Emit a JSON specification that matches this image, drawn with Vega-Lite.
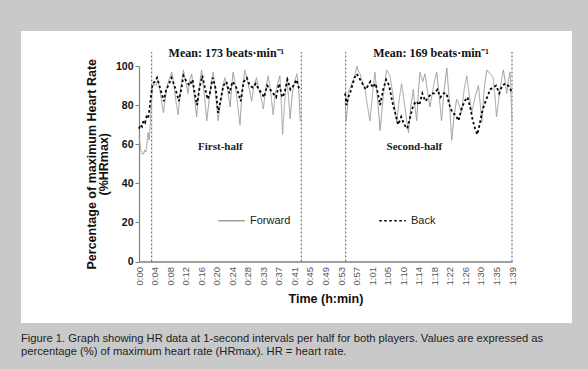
{
  "$schema": "https://vega.github.io/schema/vega-lite/v6.json",
  "width": 551,
  "height": 292,
  "autosize": {"type": "none"},
  "padding": {"left": 21, "top": 31, "right": 16, "bottom": 46},
  "background": "#c9c9c9",
  "config": {
    "view": {"fill": "white", "stroke": null},
    "font": "Liberation Sans"
  },
  "title": {
    "text": ["Figure 1. Graph showing HR data at 1-second intervals per half for both players. Values are expressed as", "percentage (%) of maximum heart rate (HRmax). HR = heart rate."],
    "orient": "bottom",
    "anchor": "start",
    "frame": "group",
    "offset": 10,
    "font": "Liberation Sans",
    "fontSize": 11.2,
    "fontWeight": "normal",
    "color": "#222222",
    "lineHeight": 12.5
  },
  "datasets": {
    "hr": [
      {"t":0.0,"v":64,"p":"Forward","h":1},{"t":0.3,"v":60,"p":"Forward","h":1},{"t":0.6,"v":56,"p":"Forward","h":1},{"t":0.9,"v":55,"p":"Forward","h":1},{"t":1.2,"v":55,"p":"Forward","h":1},{"t":1.5,"v":57,"p":"Forward","h":1},{"t":1.8,"v":56,"p":"Forward","h":1},{"t":2.1,"v":60,"p":"Forward","h":1},{"t":2.4,"v":66,"p":"Forward","h":1},{"t":2.7,"v":62,"p":"Forward","h":1},{"t":3.0,"v":70,"p":"Forward","h":1},{"t":3.3,"v":82,"p":"Forward","h":1},{"t":3.6,"v":89,"p":"Forward","h":1},{"t":4.0,"v":91,"p":"Forward","h":1},{"t":4.5,"v":90,"p":"Forward","h":1},{"t":5.0,"v":93,"p":"Forward","h":1},{"t":5.5,"v":88,"p":"Forward","h":1},{"t":6.0,"v":82,"p":"Forward","h":1},{"t":6.5,"v":76,"p":"Forward","h":1},{"t":7.0,"v":84,"p":"Forward","h":1},{"t":7.5,"v":90,"p":"Forward","h":1},{"t":8.0,"v":93,"p":"Forward","h":1},{"t":8.7,"v":97,"p":"Forward","h":1},{"t":9.3,"v":90,"p":"Forward","h":1},{"t":9.8,"v":82,"p":"Forward","h":1},{"t":10.4,"v":75,"p":"Forward","h":1},{"t":11.0,"v":88,"p":"Forward","h":1},{"t":11.8,"v":98,"p":"Forward","h":1},{"t":12.4,"v":92,"p":"Forward","h":1},{"t":13.0,"v":86,"p":"Forward","h":1},{"t":13.5,"v":93,"p":"Forward","h":1},{"t":14.0,"v":96,"p":"Forward","h":1},{"t":14.6,"v":86,"p":"Forward","h":1},{"t":15.3,"v":74,"p":"Forward","h":1},{"t":15.9,"v":88,"p":"Forward","h":1},{"t":16.6,"v":98,"p":"Forward","h":1},{"t":17.2,"v":88,"p":"Forward","h":1},{"t":18.0,"v":72,"p":"Forward","h":1},{"t":18.7,"v":84,"p":"Forward","h":1},{"t":19.2,"v":92,"p":"Forward","h":1},{"t":19.7,"v":97,"p":"Forward","h":1},{"t":20.3,"v":86,"p":"Forward","h":1},{"t":21.0,"v":72,"p":"Forward","h":1},{"t":21.7,"v":82,"p":"Forward","h":1},{"t":22.3,"v":90,"p":"Forward","h":1},{"t":22.8,"v":94,"p":"Forward","h":1},{"t":23.5,"v":88,"p":"Forward","h":1},{"t":24.2,"v":79,"p":"Forward","h":1},{"t":24.6,"v":90,"p":"Forward","h":1},{"t":25.0,"v":97,"p":"Forward","h":1},{"t":25.6,"v":90,"p":"Forward","h":1},{"t":26.2,"v":80,"p":"Forward","h":1},{"t":26.8,"v":70,"p":"Forward","h":1},{"t":27.4,"v":88,"p":"Forward","h":1},{"t":28.1,"v":98,"p":"Forward","h":1},{"t":28.7,"v":93,"p":"Forward","h":1},{"t":29.3,"v":88,"p":"Forward","h":1},{"t":29.9,"v":82,"p":"Forward","h":1},{"t":30.5,"v":90,"p":"Forward","h":1},{"t":31.2,"v":94,"p":"Forward","h":1},{"t":31.8,"v":88,"p":"Forward","h":1},{"t":32.4,"v":84,"p":"Forward","h":1},{"t":33.0,"v":78,"p":"Forward","h":1},{"t":33.6,"v":88,"p":"Forward","h":1},{"t":34.3,"v":95,"p":"Forward","h":1},{"t":35.0,"v":86,"p":"Forward","h":1},{"t":35.6,"v":75,"p":"Forward","h":1},{"t":36.2,"v":86,"p":"Forward","h":1},{"t":36.8,"v":91,"p":"Forward","h":1},{"t":37.4,"v":95,"p":"Forward","h":1},{"t":37.8,"v":80,"p":"Forward","h":1},{"t":38.1,"v":65,"p":"Forward","h":1},{"t":38.6,"v":80,"p":"Forward","h":1},{"t":39.2,"v":94,"p":"Forward","h":1},{"t":39.7,"v":84,"p":"Forward","h":1},{"t":40.1,"v":73,"p":"Forward","h":1},{"t":40.7,"v":86,"p":"Forward","h":1},{"t":41.3,"v":92,"p":"Forward","h":1},{"t":41.9,"v":96,"p":"Forward","h":1},{"t":42.4,"v":88,"p":"Forward","h":1},{"t":42.8,"v":72,"p":"Forward","h":1},
      {"t":54.7,"v":82,"p":"Forward","h":2},{"t":55.0,"v":72,"p":"Forward","h":2},{"t":55.3,"v":78,"p":"Forward","h":2},{"t":55.6,"v":87,"p":"Forward","h":2},{"t":56.3,"v":90,"p":"Forward","h":2},{"t":56.9,"v":93,"p":"Forward","h":2},{"t":57.4,"v":96,"p":"Forward","h":2},{"t":57.8,"v":100,"p":"Forward","h":2},{"t":58.3,"v":97,"p":"Forward","h":2},{"t":58.7,"v":96,"p":"Forward","h":2},{"t":59.1,"v":93,"p":"Forward","h":2},{"t":59.5,"v":91,"p":"Forward","h":2},{"t":60.0,"v":88,"p":"Forward","h":2},{"t":60.6,"v":80,"p":"Forward","h":2},{"t":61.3,"v":72,"p":"Forward","h":2},{"t":62.0,"v":86,"p":"Forward","h":2},{"t":62.6,"v":97,"p":"Forward","h":2},{"t":63.3,"v":84,"p":"Forward","h":2},{"t":64.0,"v":67,"p":"Forward","h":2},{"t":64.8,"v":84,"p":"Forward","h":2},{"t":65.7,"v":98,"p":"Forward","h":2},{"t":66.6,"v":95,"p":"Forward","h":2},{"t":67.5,"v":84,"p":"Forward","h":2},{"t":68.4,"v":71,"p":"Forward","h":2},{"t":69.0,"v":82,"p":"Forward","h":2},{"t":69.7,"v":91,"p":"Forward","h":2},{"t":70.5,"v":80,"p":"Forward","h":2},{"t":71.5,"v":66,"p":"Forward","h":2},{"t":72.2,"v":80,"p":"Forward","h":2},{"t":72.8,"v":88,"p":"Forward","h":2},{"t":73.2,"v":80,"p":"Forward","h":2},{"t":73.7,"v":72,"p":"Forward","h":2},{"t":74.2,"v":88,"p":"Forward","h":2},{"t":74.6,"v":97,"p":"Forward","h":2},{"t":75.3,"v":92,"p":"Forward","h":2},{"t":75.9,"v":96,"p":"Forward","h":2},{"t":76.5,"v":88,"p":"Forward","h":2},{"t":77.2,"v":79,"p":"Forward","h":2},{"t":78.2,"v":90,"p":"Forward","h":2},{"t":79.0,"v":97,"p":"Forward","h":2},{"t":79.7,"v":84,"p":"Forward","h":2},{"t":80.3,"v":72,"p":"Forward","h":2},{"t":81.0,"v":88,"p":"Forward","h":2},{"t":81.7,"v":99,"p":"Forward","h":2},{"t":82.3,"v":84,"p":"Forward","h":2},{"t":83.0,"v":62,"p":"Forward","h":2},{"t":83.6,"v":74,"p":"Forward","h":2},{"t":84.3,"v":83,"p":"Forward","h":2},{"t":85.0,"v":80,"p":"Forward","h":2},{"t":85.6,"v":76,"p":"Forward","h":2},{"t":86.3,"v":88,"p":"Forward","h":2},{"t":87.0,"v":95,"p":"Forward","h":2},{"t":87.6,"v":86,"p":"Forward","h":2},{"t":88.3,"v":76,"p":"Forward","h":2},{"t":89.2,"v":84,"p":"Forward","h":2},{"t":90.1,"v":90,"p":"Forward","h":2},{"t":90.6,"v":80,"p":"Forward","h":2},{"t":91.0,"v":71,"p":"Forward","h":2},{"t":91.6,"v":88,"p":"Forward","h":2},{"t":92.3,"v":98,"p":"Forward","h":2},{"t":93.2,"v":96,"p":"Forward","h":2},{"t":94.0,"v":94,"p":"Forward","h":2},{"t":94.5,"v":84,"p":"Forward","h":2},{"t":94.9,"v":74,"p":"Forward","h":2},{"t":95.8,"v":88,"p":"Forward","h":2},{"t":96.7,"v":98,"p":"Forward","h":2},{"t":97.2,"v":92,"p":"Forward","h":2},{"t":97.6,"v":86,"p":"Forward","h":2},{"t":98.0,"v":92,"p":"Forward","h":2},{"t":98.5,"v":97,"p":"Forward","h":2},{"t":99.0,"v":72,"p":"Forward","h":2},
      {"t":0.0,"v":68,"p":"Back","h":1},{"t":0.4,"v":70,"p":"Back","h":1},{"t":0.8,"v":69,"p":"Back","h":1},{"t":1.2,"v":72,"p":"Back","h":1},{"t":1.6,"v":71,"p":"Back","h":1},{"t":2.0,"v":74,"p":"Back","h":1},{"t":2.4,"v":73,"p":"Back","h":1},{"t":2.8,"v":78,"p":"Back","h":1},{"t":3.2,"v":85,"p":"Back","h":1},{"t":3.6,"v":91,"p":"Back","h":1},{"t":4.2,"v":92,"p":"Back","h":1},{"t":4.8,"v":94,"p":"Back","h":1},{"t":5.4,"v":90,"p":"Back","h":1},{"t":6.0,"v":86,"p":"Back","h":1},{"t":6.6,"v":82,"p":"Back","h":1},{"t":7.2,"v":88,"p":"Back","h":1},{"t":7.8,"v":90,"p":"Back","h":1},{"t":8.6,"v":94,"p":"Back","h":1},{"t":9.4,"v":90,"p":"Back","h":1},{"t":10.0,"v":86,"p":"Back","h":1},{"t":10.6,"v":82,"p":"Back","h":1},{"t":11.2,"v":88,"p":"Back","h":1},{"t":11.8,"v":95,"p":"Back","h":1},{"t":12.6,"v":92,"p":"Back","h":1},{"t":13.4,"v":90,"p":"Back","h":1},{"t":14.2,"v":93,"p":"Back","h":1},{"t":14.8,"v":86,"p":"Back","h":1},{"t":15.4,"v":80,"p":"Back","h":1},{"t":16.0,"v":88,"p":"Back","h":1},{"t":16.8,"v":95,"p":"Back","h":1},{"t":17.6,"v":88,"p":"Back","h":1},{"t":18.2,"v":83,"p":"Back","h":1},{"t":18.8,"v":86,"p":"Back","h":1},{"t":19.6,"v":94,"p":"Back","h":1},{"t":20.4,"v":88,"p":"Back","h":1},{"t":21.0,"v":76,"p":"Back","h":1},{"t":21.6,"v":82,"p":"Back","h":1},{"t":22.4,"v":90,"p":"Back","h":1},{"t":23.2,"v":92,"p":"Back","h":1},{"t":24.0,"v":86,"p":"Back","h":1},{"t":24.8,"v":92,"p":"Back","h":1},{"t":25.6,"v":90,"p":"Back","h":1},{"t":26.4,"v":86,"p":"Back","h":1},{"t":27.0,"v":82,"p":"Back","h":1},{"t":27.8,"v":92,"p":"Back","h":1},{"t":28.6,"v":94,"p":"Back","h":1},{"t":29.4,"v":90,"p":"Back","h":1},{"t":30.2,"v":89,"p":"Back","h":1},{"t":31.0,"v":91,"p":"Back","h":1},{"t":31.8,"v":88,"p":"Back","h":1},{"t":32.6,"v":86,"p":"Back","h":1},{"t":33.2,"v":84,"p":"Back","h":1},{"t":34.0,"v":90,"p":"Back","h":1},{"t":34.8,"v":88,"p":"Back","h":1},{"t":35.6,"v":86,"p":"Back","h":1},{"t":36.4,"v":84,"p":"Back","h":1},{"t":37.2,"v":91,"p":"Back","h":1},{"t":38.0,"v":84,"p":"Back","h":1},{"t":38.6,"v":86,"p":"Back","h":1},{"t":39.4,"v":93,"p":"Back","h":1},{"t":40.2,"v":88,"p":"Back","h":1},{"t":41.0,"v":90,"p":"Back","h":1},{"t":41.8,"v":93,"p":"Back","h":1},{"t":42.4,"v":89,"p":"Back","h":1},{"t":42.8,"v":88,"p":"Back","h":1},
      {"t":54.7,"v":86,"p":"Back","h":2},{"t":55.1,"v":80,"p":"Back","h":2},{"t":55.5,"v":84,"p":"Back","h":2},{"t":56.0,"v":86,"p":"Back","h":2},{"t":56.6,"v":90,"p":"Back","h":2},{"t":57.2,"v":94,"p":"Back","h":2},{"t":57.8,"v":96,"p":"Back","h":2},{"t":58.4,"v":94,"p":"Back","h":2},{"t":59.0,"v":92,"p":"Back","h":2},{"t":59.6,"v":90,"p":"Back","h":2},{"t":60.2,"v":88,"p":"Back","h":2},{"t":60.8,"v":90,"p":"Back","h":2},{"t":61.4,"v":92,"p":"Back","h":2},{"t":62.0,"v":89,"p":"Back","h":2},{"t":62.8,"v":91,"p":"Back","h":2},{"t":63.4,"v":86,"p":"Back","h":2},{"t":64.0,"v":80,"p":"Back","h":2},{"t":64.8,"v":88,"p":"Back","h":2},{"t":65.6,"v":93,"p":"Back","h":2},{"t":66.4,"v":90,"p":"Back","h":2},{"t":67.2,"v":82,"p":"Back","h":2},{"t":68.0,"v":76,"p":"Back","h":2},{"t":68.8,"v":70,"p":"Back","h":2},{"t":69.6,"v":74,"p":"Back","h":2},{"t":70.4,"v":70,"p":"Back","h":2},{"t":71.2,"v":68,"p":"Back","h":2},{"t":72.0,"v":74,"p":"Back","h":2},{"t":72.8,"v":80,"p":"Back","h":2},{"t":73.6,"v":82,"p":"Back","h":2},{"t":74.4,"v":80,"p":"Back","h":2},{"t":75.2,"v":86,"p":"Back","h":2},{"t":76.0,"v":82,"p":"Back","h":2},{"t":76.8,"v":84,"p":"Back","h":2},{"t":77.6,"v":86,"p":"Back","h":2},{"t":78.4,"v":86,"p":"Back","h":2},{"t":79.2,"v":88,"p":"Back","h":2},{"t":80.0,"v":84,"p":"Back","h":2},{"t":80.8,"v":86,"p":"Back","h":2},{"t":81.6,"v":86,"p":"Back","h":2},{"t":82.4,"v":80,"p":"Back","h":2},{"t":83.2,"v":76,"p":"Back","h":2},{"t":84.0,"v":75,"p":"Back","h":2},{"t":84.8,"v":72,"p":"Back","h":2},{"t":85.6,"v":78,"p":"Back","h":2},{"t":86.4,"v":82,"p":"Back","h":2},{"t":87.2,"v":84,"p":"Back","h":2},{"t":88.0,"v":78,"p":"Back","h":2},{"t":88.6,"v":72,"p":"Back","h":2},{"t":89.2,"v":68,"p":"Back","h":2},{"t":89.8,"v":65,"p":"Back","h":2},{"t":90.4,"v":70,"p":"Back","h":2},{"t":91.0,"v":76,"p":"Back","h":2},{"t":91.6,"v":80,"p":"Back","h":2},{"t":92.4,"v":84,"p":"Back","h":2},{"t":93.2,"v":88,"p":"Back","h":2},{"t":94.0,"v":89,"p":"Back","h":2},{"t":94.8,"v":90,"p":"Back","h":2},{"t":95.6,"v":86,"p":"Back","h":2},{"t":96.4,"v":90,"p":"Back","h":2},{"t":97.2,"v":91,"p":"Back","h":2},{"t":98.0,"v":90,"p":"Back","h":2},{"t":98.6,"v":88,"p":"Back","h":2},{"t":99.0,"v":86,"p":"Back","h":2}
    ],
    "dividers": [
      {"t": 3.37, "lo": 0, "hi": 107.2},
      {"t": 43.08, "lo": 0, "hi": 107.2},
      {"t": 54.86, "lo": 0, "hi": 107.2},
      {"t": 99.0, "lo": 0, "hi": 107.2}
    ],
    "means": [
      {"t": 23.2, "v": 106.5, "label": "Mean: 173 beats·min⁻¹"},
      {"t": 77.5, "v": 106.5, "label": "Mean: 169 beats·min⁻¹"}
    ],
    "halves": [
      {"t": 21.6, "v": 58.7, "label": "First-half"},
      {"t": 73.1, "v": 58.7, "label": "Second-half"}
    ]
  },
  "layer": [
    {
      "data": {"name": "dividers"},
      "mark": {"type": "rule", "color": "#555555", "strokeWidth": 1, "strokeDash": [2, 2]},
      "encoding": {
        "x": {"field": "t", "type": "quantitative"},
        "y": {"field": "lo", "type": "quantitative"},
        "y2": {"field": "hi"}
      }
    },
    {
      "data": {"name": "hr"},
      "transform": [{"filter": "datum.p === 'Forward'"}],
      "mark": {"type": "line", "strokeWidth": 1},
      "encoding": {
        "x": {"field": "t", "type": "quantitative"},
        "y": {"field": "v", "type": "quantitative"},
        "detail": {"field": "h", "type": "nominal"},
        "color": {
          "field": "p",
          "type": "nominal",
          "scale": {"domain": ["Forward", "Back"], "range": ["#9d9d9d", "#000000"]},
          "legend": {
            "title": null,
            "orient": "none",
            "legendX": 196,
            "legendY": 175,
            "direction": "horizontal",
            "symbolType": "stroke",
            "symbolSize": 700,
            "symbolStrokeWidth": 1.6,
            "labelFont": "Liberation Sans",
            "labelFontSize": 11,
            "labelColor": "#222222",
            "labelOffset": 4,
            "columnPadding": 85
          }
        },
        "strokeDash": {
          "field": "p",
          "type": "nominal",
          "scale": {"domain": ["Forward", "Back"], "range": [[1, 0], [2.5, 2.5]]},
          "legend": {
            "title": null,
            "orient": "none",
            "legendX": 196,
            "legendY": 175,
            "direction": "horizontal",
            "symbolType": "stroke",
            "symbolSize": 700,
            "symbolStrokeWidth": 1.6,
            "labelFont": "Liberation Sans",
            "labelFontSize": 11,
            "labelColor": "#222222",
            "labelOffset": 4,
            "columnPadding": 85
          }
        }
      }
    },
    {
      "data": {"name": "hr"},
      "transform": [{"filter": "datum.p === 'Back'"}],
      "mark": {"type": "line", "strokeWidth": 1.8},
      "encoding": {
        "x": {"field": "t", "type": "quantitative"},
        "y": {"field": "v", "type": "quantitative"},
        "detail": {"field": "h", "type": "nominal"},
        "color": {"field": "p", "type": "nominal"},
        "strokeDash": {"field": "p", "type": "nominal"}
      }
    },
    {
      "data": {"name": "means"},
      "mark": {"type": "text", "font": "Liberation Serif", "fontWeight": "bold", "fontSize": 12, "color": "#111111", "baseline": "middle", "align": "center"},
      "encoding": {
        "x": {"field": "t", "type": "quantitative"},
        "y": {"field": "v", "type": "quantitative"},
        "text": {"field": "label"}
      }
    },
    {
      "data": {"name": "halves"},
      "mark": {"type": "text", "font": "Liberation Serif", "fontWeight": "bold", "fontSize": 11, "color": "#222222", "baseline": "middle", "align": "center"},
      "encoding": {
        "x": {"field": "t", "type": "quantitative"},
        "y": {"field": "v", "type": "quantitative"},
        "text": {"field": "label"}
      }
    }
  ],
  "resolve": {"scale": {"x": "shared", "y": "shared"}},
  "encoding": {
    "x": {
      "field": "t",
      "type": "quantitative",
      "scale": {"domain": [0, 99], "range": [118, 491], "nice": false, "zero": false},
      "axis": {
        "offset": -61.5,
        "values": [0, 4.125, 8.25, 12.375, 16.5, 20.625, 24.75, 28.875, 33, 37.125, 41.25, 45.375, 49.5, 53.625, 57.75, 61.875, 66, 70.125, 74.25, 78.375, 82.5, 86.625, 90.75, 94.875, 99],
        "labelExpr": "['0:00','0:04','0:08','0:12','0:16','0:20','0:24','0:28','0:33','0:37','0:41','0:45','0:49','0:53','0:57','1:01','1:05','1:10','1:14','1:18','1:22','1:26','1:30','1:35','1:39'][round(datum.value/4.125)]",
        "labelAngle": -90,
        "labelAlign": "right",
        "labelBaseline": "middle",
        "labelPadding": 5,
        "labelFont": "Liberation Sans",
        "labelFontSize": 9.5,
        "labelColor": "#555555",
        "labelOverlap": false,
        "labelBound": false,
        "labelFlush": false,
        "ticks": false,
        "grid": false,
        "domainColor": "#808080",
        "domainWidth": 1.5,
        "title": "Time (h:min)",
        "titleFont": "Liberation Sans",
        "titleFontSize": 12.5,
        "titleFontWeight": "bold",
        "titleColor": "#111111",
        "titlePadding": 8
      }
    },
    "y": {
      "field": "v",
      "type": "quantitative",
      "scale": {"domain": [0, 100], "range": [230.5, 35], "nice": false, "zero": false},
      "axis": {
        "offset": -118,
        "values": [0, 20, 40, 60, 80, 100],
        "labelFont": "Liberation Sans",
        "labelFontSize": 10.5,
        "labelFontWeight": "bold",
        "labelColor": "#111111",
        "labelPadding": 2,
        "tickSize": 4,
        "tickColor": "#808080",
        "grid": false,
        "domainColor": "#808080",
        "domainWidth": 1.2,
        "title": ["Percentage of maximum Heart Rate", "(%HRmax)"],
        "titleFont": "Liberation Sans",
        "titleFontSize": 12.5,
        "titleFontWeight": "bold",
        "titleColor": "#111111",
        "titleLineHeight": 11.5,
        "titlePadding": 5
      }
    }
  }
}
